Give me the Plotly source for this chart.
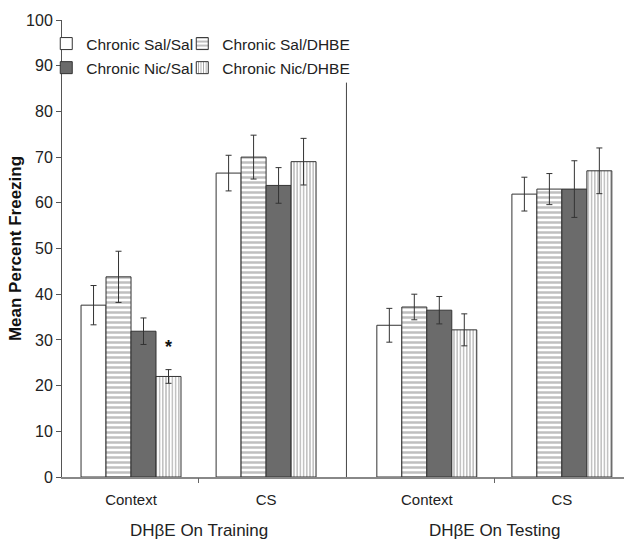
import plotly.graph_objects as go

# ---- data ----
categories = ["Context", "CS", "Context", "CS"]
panel_labels = ["DHβE On Training", "DHβE On Testing"]
series_names = ["Chronic Sal/Sal", "Chronic Sal/DHBE", "Chronic Nic/Sal", "Chronic Nic/DHBE"]
sal_sal = [37.6, 66.5, 33.2, 61.9]
sal_dhbe = [43.8, 70.0, 37.2, 63.0]
nic_sal = [31.9, 63.8, 36.5, 63.0]
nic_dhbe = [22.0, 69.0, 32.2, 67.0]
sal_sal_err = [4.3, 3.9, 3.7, 3.7]
sal_dhbe_err = [5.6, 4.8, 2.8, 3.4]
nic_sal_err = [2.9, 3.9, 3.0, 6.2]
nic_dhbe_err = [1.5, 5.1, 3.5, 5.0]
y_ticks = [0, 10, 20, 30, 40, 50, 60, 70, 80, 90, 100]

# category positions: two panels of two categories with a wider gap between panels
panel_gap = 0.19
xpos = [i + 1 + (panel_gap if i >= 2 else 0) for i in range(len(categories))]
panel_centers = [(xpos[0] + xpos[1]) / 2, (xpos[2] + xpos[3]) / 2]
divider_x = (xpos[1] + xpos[2]) / 2

values = [sal_sal, sal_dhbe, nic_sal, nic_dhbe]
errors = [sal_sal_err, sal_dhbe_err, nic_sal_err, nic_dhbe_err]
fills = ["white", "white", "#6b6b6b", "white"]
patterns = [
    dict(shape=""),
    dict(shape="-", fgcolor="#808080", bgcolor="white", size=5, solidity=0.5),
    dict(shape=""),
    dict(shape="|", fgcolor="#333333", bgcolor="white", size=3.2, solidity=0.3),
]
legend_ids = ["legend", "legend3", "legend2", "legend4"]

fig = go.Figure()
for name, v, e, fc, pat, lg in zip(series_names, values, errors, fills, patterns, legend_ids):
    fig.add_trace(go.Bar(
        x=xpos, y=v, name=name,
        marker=dict(color=fc, line=dict(color="#333333", width=1), pattern=pat),
        error_y=dict(type="data", array=e, color="#333333", thickness=1, width=3),
        legend=lg,
    ))

# asterisk over Chronic Nic/DHBE, Context (training)
bar_w = (1 - 0.26) / 4
fig.add_annotation(x=xpos[0] + 1.5 * bar_w, y=nic_dhbe[0] + nic_dhbe_err[0] + 5.0,
                   text="<b>*</b>", showarrow=False, font=dict(size=18, color="#111111"),
                   xref="x", yref="y", yanchor="middle")

# panel labels
for lbl, cx in zip(panel_labels, panel_centers):
    fig.add_annotation(x=cx, y=-0.118, xref="x", yref="paper", text=lbl, showarrow=False,
                       font=dict(size=17, color="#222222"), yanchor="middle")

# divider between panels
fig.add_shape(type="line", x0=divider_x, x1=divider_x, y0=0, y1=86.3, xref="x", yref="y",
              line=dict(color="#444444", width=1))

font_family = "Liberation Sans, Arial, sans-serif"
leg_common = dict(font=dict(size=15.5, color="#222222"), bgcolor="rgba(0,0,0,0)",
                  xanchor="left", yanchor="middle", orientation="v")
fig.update_layout(
    width=624, height=541,
    margin=dict(l=62, r=0, t=20, b=64, autoexpand=False),
    paper_bgcolor="white", plot_bgcolor="white",
    font=dict(family=font_family, color="#222222"),
    barmode="group", bargap=0.26, bargroupgap=0,
    legend=dict(x=-0.028, y=0.9475, **leg_common),
    legend2=dict(x=-0.028, y=0.8948, **leg_common),
    legend3=dict(x=0.214, y=0.9475, **leg_common),
    legend4=dict(x=0.214, y=0.8948, **leg_common),
    xaxis=dict(range=[0.489, 4.65], tickvals=xpos, ticktext=categories, showgrid=False,
               zeroline=False, showline=True, linecolor="#888888", linewidth=1.5,
               ticks="", tickfont=dict(size=15, color="#222222"), ticklabelstandoff=8,
               automargin=False),
    xaxis2=dict(range=[0.489, 4.65], overlaying="x", side="bottom", anchor="y",
                tickvals=panel_centers, showticklabels=False, ticks="outside", ticklen=5,
                tickcolor="#666666", showgrid=False, zeroline=False, showline=False,
                automargin=False),
    yaxis=dict(range=[0, 100], tickvals=y_ticks, showgrid=False, zeroline=False,
               showline=True, linecolor="#555555", linewidth=1, ticks="outside", ticklen=5,
               tickcolor="#555555", tickfont=dict(size=16, color="#222222"), automargin=False,
               title=dict(text="<b>Mean Percent Freezing</b>", font=dict(size=17, color="#111111"),
                          standoff=0)),
)
# invisible helper trace to activate xaxis2 ticks
fig.add_trace(go.Scatter(x=panel_centers, y=[None, None], xaxis="x2", showlegend=False,
                         hoverinfo="skip"))

fig.write_html("out.html", config={"displayModeBar": False},
               post_script="document.body.style.margin='0';")
